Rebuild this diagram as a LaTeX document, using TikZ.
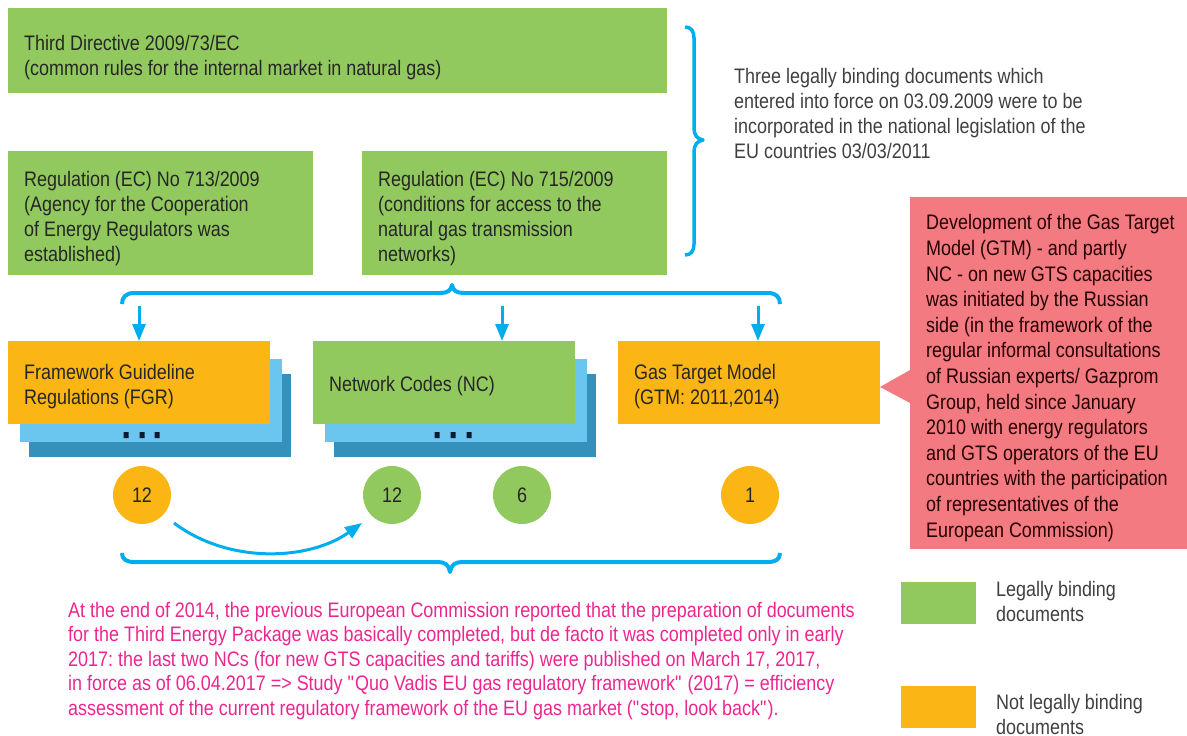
\documentclass[tikz,border=0pt]{standalone}
\usepackage{fontspec}
\setmainfont{Liberation Sans}[FakeStretch=0.855]
\usetikzlibrary{arrows.meta}
\definecolor{lgreen}{HTML}{92C95E}
\definecolor{gold}{HTML}{FBB515}
\definecolor{sky}{HTML}{6AC5EF}
\definecolor{steel}{HTML}{3590BB}
\definecolor{cyanline}{HTML}{00AEEF}
\definecolor{rose}{HTML}{F47A82}
\definecolor{pinktext}{HTML}{EC268F}
\definecolor{ink}{HTML}{262626}
\definecolor{grayink}{HTML}{3F3F3F}
\definecolor{navy}{HTML}{0B1A33}
\frenchspacing
\begin{document}
\begin{tikzpicture}[x=1pt,y=-1pt,
  panel/.style={anchor=north west, inner sep=0, outer sep=0},
  txt/.style={anchor=west, align=left, inner sep=0, text=ink,
    font=\fontsize{21}{25}\selectfont},
  disc/.style={circle, minimum size=58pt, inner sep=0, text=ink,
    font=\fontsize{21}{25}\selectfont},
  brace/.style={draw=cyanline, line width=4pt, line join=round},
  flow/.style={draw=cyanline, line width=3pt,
    -{Triangle[length=17pt,width=13pt]}},
  pip/.style={fill=navy}]
\useasboundingbox (0,0) rectangle (1187,736);

% --- upper green documents
\node[panel, fill=lgreen, minimum width=659pt, minimum height=85pt] (dir) at (8,8) {};
\node[txt] (dirt) at (24,58) {Third Directive 2009/73/EC\\(common rules for the internal market in natural gas)};
\node[panel, fill=lgreen, minimum width=305pt, minimum height=124pt] (r713) at (8,151) {};
\node[txt] (r713t) at (24,218.5) {Regulation (EC) No 713/2009\\(Agency for the Cooperation\\of Energy Regulators was\\established)};
\node[panel, fill=lgreen, minimum width=305pt, minimum height=124pt] (r715) at (362,151) {};
\node[txt] (r715t) at (378,218.5) {Regulation (EC) No 715/2009\\(conditions for access to the\\natural gas transmission\\networks)};

% --- brace at right of the three documents
\draw[brace, line width=3.5pt] (685,27) .. controls (691,27) and (694,31) .. (694,38) -- (694,128)
  .. controls (694,135) and (697,139) .. (703,140) .. controls (697,141) and (694,145) .. (694,152)
  -- (694,244) .. controls (694,251) and (691,255) .. (685,255);
\node[txt, text=grayink] (three) at (734,113) {Three legally binding documents which\\entered into force on 03.09.2009 were to be\\incorporated in the national legislation of the\\EU countries 03/03/2011};

% --- brace over the second tier
\draw[brace] (122,304) .. controls (122,297) and (126,293) .. (134,293) -- (440,293)
  .. controls (447,293) and (451,291) .. (452,285) .. controls (453,291) and (457,293) .. (464,293)
  -- (768,293) .. controls (776,293) and (780,297) .. (780,304);
\coordinate (a1) at (139,306);
\coordinate (a2) at (502,306);
\coordinate (a3) at (758,306);

% --- stacked FGR
\node[panel, fill=steel, minimum width=262pt, minimum height=83pt] (fgr3) at (29,374) {};
\node[panel, fill=sky, minimum width=262pt, minimum height=83pt] (fgr2) at (20,359) {};
\node[panel, fill=gold, minimum width=262pt, minimum height=83pt] (fgr) at (8,341) {};
\node[txt] (fgrt) at (24,386.5) {Framework Guideline\\Regulations (FGR)};
\fill[pip] (123.5,432) rectangle +(5,6) (139.5,432) rectangle +(5,6) (154.5,432) rectangle +(5,6);

% --- stacked NC
\node[panel, fill=steel, minimum width=262pt, minimum height=83pt] (nc3) at (334,374) {};
\node[panel, fill=sky, minimum width=262pt, minimum height=83pt] (nc2) at (325,359) {};
\node[panel, fill=lgreen, minimum width=262pt, minimum height=83pt] (nc) at (313,341) {};
\node[txt] (nct) at (329,386) {Network Codes (NC)};
\fill[pip] (434.5,432) rectangle +(5,6) (450.5,432) rectangle +(5,6) (466.5,432) rectangle +(5,6);

% --- GTM
\node[panel, fill=gold, minimum width=262pt, minimum height=83pt] (gtm) at (618,341) {};
\node[txt] (gtmt) at (634,386.5) {Gas Target Model\\(GTM: 2011,2014)};

\draw[flow] (a1) -- (a1 |- fgr.north);
\draw[flow] (a2) -- (a2 |- nc.north);
\draw[flow] (a3) -- (a3 |- gtm.north);

% --- callout
\node[panel, fill=rose, minimum width=277pt, minimum height=352pt] (note) at (910,197) {};
\fill[rose] (910,370) -- (880,387) -- (910,403) -- cycle;
\node[txt, font=\fontsize{21}{25.6}\selectfont, text=black!85!red] (notet) at (926,378) {Development of the Gas Target\\Model (GTM) - and partly\\NC - on new GTS capacities\\was initiated by the Russian\\side (in the framework of the\\regular informal consultations\\of Russian experts/ Gazprom\\Group, held since January\\2010 with energy regulators\\and GTS operators of the EU\\countries with the participation\\of representatives of the\\European Commission)};

% --- counts
\node[disc, fill=gold] (c1) at (142,495) {12};
\node[disc, fill=lgreen] (c2) at (392,495) {12};
\node[disc, fill=lgreen] (c3) at (522,495) {6};
\node[disc, fill=gold] (c4) at (750,495) {1};
\coordinate (cs) at (174,523);
\coordinate (ce) at (362,523);
\draw[flow] (cs) .. controls (230,565) and (310,560) .. (ce);

% --- brace under the counts
\draw[brace] (122,553) .. controls (122,559) and (126,562) .. (134,562) -- (438,562)
  .. controls (445,562) and (449,565) .. (450,572) .. controls (451,565) and (455,562) .. (462,562)
  -- (768,562) .. controls (776,562) and (780,559) .. (780,553);

\node[txt, text=pinktext, font=\fontsize{21}{24.5}\selectfont] (summary) at (68,661) {At the end of 2014, the previous European Commission reported that the preparation of documents\\for the Third Energy Package was basically completed, but de facto it was completed only in early\\2017: the last two NCs (for new GTS capacities and tariffs) were published on March 17, 2017,\\in force as of 06.04.2017 => Study \textquotedbl Quo Vadis EU gas regulatory framework\textquotedbl{} (2017) = efficiency\\assessment of the current regulatory framework of the EU gas market (\textquotedbl stop, look back\textquotedbl).};

% --- legend
\node[panel, fill=lgreen, minimum width=75pt, minimum height=42pt] (kg) at (901,582) {};
\node[txt, text=grayink] (kgt) at (996,601) {Legally binding\\documents};
\node[panel, fill=gold, minimum width=75pt, minimum height=42pt] (ko) at (901,686) {};
\node[txt, text=grayink] (kot) at (996,714) {Not legally binding\\documents};
\end{tikzpicture}
\end{document}
